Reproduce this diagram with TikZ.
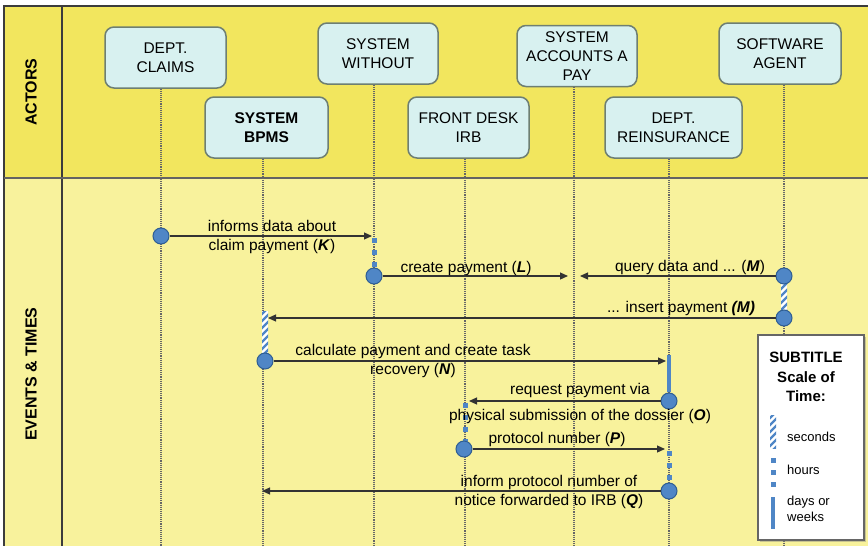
\documentclass[tikz,border=0pt]{standalone}
\usepackage{fontspec}
\setmainfont{Liberation Sans}
\usetikzlibrary{arrows.meta,shadows}

\definecolor{actband}{HTML}{F2E65E}
\definecolor{evband}{HTML}{F8F29C}
\definecolor{boxfill}{HTML}{D8F1F0}
\definecolor{boxline}{HTML}{6E7F72}
\definecolor{evblue}{HTML}{4F86C6}
\definecolor{evedge}{HTML}{2F5E93}
\definecolor{framegray}{HTML}{3C3C3C}
\definecolor{msggray}{HTML}{333333}

\tikzset{
  actor/.style={draw=boxline, line width=1.5pt, fill=boxfill, rounded corners=9pt,
    minimum width=121pt, minimum height=61pt, align=center, inner sep=2pt,
    font=\fontsize{15.5}{19}\selectfont},
  lifeline/.style={draw=black!60, densely dotted, line width=1.1pt},
  msg/.style={draw=msggray, line width=1.2pt, -{Triangle[length=8pt,width=7pt]}},
  event/.style={circle, draw=evedge, fill=evblue, line width=1pt,
    minimum size=16pt, inner sep=0pt},
  lbl/.style={font=\fontsize{15.5}{19}\selectfont, align=center, inner sep=0pt},
  legtxt/.style={font=\fontsize{13}{16}\selectfont, align=left, inner sep=0pt, anchor=west},
  hoursbar/.style={draw=evblue, line width=5pt, dash pattern=on 5pt off 7pt},
  daysbar/.style={draw=evblue, line width=4.5pt},
  bandlabel/.style={rotate=90, font=\fontsize{16}{19}\selectfont\bfseries},
}

% diagonal blue/white stripes on a lifeline: x, top y, bottom y
\newcommand\hatchbar[3]{%
  \begin{scope}
    \clip (#1-3,#2) rectangle (#1+3,#3);
    \fill[white] (#1-3,#2) rectangle (#1+3,#3);
    \pgfmathtruncatemacro\hbN{(#3-#2)/7+2}
    \foreach \k in {0,...,\hbN}
      \draw[evblue, line width=2.2pt] (#1-4,#2+\k*7+4) -- (#1+4,#2+\k*7-4);
  \end{scope}}

\newcommand\bi[1]{\textbf{\textit{#1}}}

\begin{document}
\begin{tikzpicture}[x=1pt,y=-1pt]
  \useasboundingbox (0,0) rectangle (868,546);
  \fill[white] (0,0) rectangle (868,546);

  % bands and frame
  \fill[actband] (4,6) rectangle (868,178);
  \fill[evband] (4,178) rectangle (868,546);
  \draw[framegray, line width=1.5pt] (868,6) -- (4,6) -- (4,546);
  \draw[framegray, line width=1.3pt] (62,6) -- (62,546);
  \draw[framegray!80, line width=1.3pt] (4,178) -- (868,178);

  \node[bandlabel] (actorsLbl) at (31,92) {ACTORS};
  \node[bandlabel] (eventsLbl) at (31,374) {EVENTS \& TIMES};

  % actors
  \node[actor] (claims)   at (165.5,57.5) {DEPT.\\CLAIMS};
  \node[actor, minimum width=123pt, font=\fontsize{15.5}{19}\selectfont\bfseries]
                          (bpms)     at (266.5,127.5) {SYSTEM\\BPMS};
  \node[actor, minimum width=120pt] (without)  at (378,53.5) {SYSTEM\\WITHOUT};
  \node[actor] (front)    at (468.5,127.5) {FRONT DESK\\IRB};
  \node[actor, minimum width=120pt] (accounts) at (577,56) {SYSTEM\\ACCOUNTS A\\PAY};
  \node[actor, minimum width=137pt] (reins)    at (673.5,127.5) {DEPT.\\REINSURANCE};
  \node[actor, minimum width=122pt] (agent)    at (780,53.5) {SOFTWARE\\AGENT};

  % lifelines
  \coordinate (claimsEnd)   at (161,546);
  \coordinate (bpmsEnd)     at (263,546);
  \coordinate (withoutEnd)  at (374,546);
  \coordinate (frontEnd)    at (465,546);
  \coordinate (accountsEnd) at (574,546);
  \coordinate (reinsEnd)    at (669,546);
  \coordinate (agentEnd)    at (784,546);
  \draw[lifeline] (claims.south -| claimsEnd)     -- (claimsEnd);
  \draw[lifeline] (bpms.south -| bpmsEnd)         -- (bpmsEnd);
  \draw[lifeline] (without.south -| withoutEnd)   -- (withoutEnd);
  \draw[lifeline] (front.south -| frontEnd)       -- (frontEnd);
  \draw[lifeline] (accounts.south -| accountsEnd) -- (accountsEnd);
  \draw[lifeline] (reins.south -| reinsEnd)       -- (reinsEnd);
  \draw[lifeline] (agent.south -| agentEnd)       -- (agentEnd);

  % duration bars
  \draw[hoursbar] (374,238) -- (374,270);
  \hatchbar{784}{279}{316}
  \hatchbar{265}{311}{357}
  \draw[daysbar] (669,355) -- (669,392);
  \draw[hoursbar] (465,403) -- (465,441);
  \draw[hoursbar] (669,451) -- (669,483);

  % messages
  \coordinate (kEnd) at (372,236);
  \coordinate (lEnd) at (568,276);
  \coordinate (m1End) at (580,276);
  \coordinate (m2End) at (268,318);
  \coordinate (nEnd) at (666,361);
  \coordinate (oEnd) at (469,401);
  \coordinate (pEnd) at (665,449);
  \coordinate (qEnd) at (262,491);

  \node[event] (evK)  at (161,236) {};
  \node[event] (evL)  at (374,276) {};
  \node[event] (evM1) at (784,276) {};
  \node[event] (evM2) at (784,318) {};
  \node[event] (evN)  at (265,361) {};
  \node[event] (evO)  at (669,401) {};
  \node[event] (evP)  at (464,449) {};
  \node[event] (evQ)  at (669,491) {};

  \draw[msg] (evK)  -- (kEnd);
  \draw[msg] (evL)  -- (lEnd);
  \draw[msg] (evM1) -- (m1End);
  \draw[msg] (evM2) -- (m2End);
  \draw[msg] (evN)  -- (nEnd);
  \draw[msg] (evO)  -- (oEnd);
  \draw[msg] (evP)  -- (pEnd);
  \draw[msg] (evQ)  -- (qEnd);

  % message labels
  \node[lbl] (lblK)  at (272,236.5) {informs data about\\claim payment (\bi{K})};
  \node[lbl] (lblL)  at (466,268) {create payment (\bi{L})};
  \node[lbl] (lblM1) at (690,267) {query data and ... (\bi{M})};
  \node[lbl] (lblM2) at (681,308) {... insert payment \bi{(M)}};
  \node[lbl] (lblN)  at (413,360.5) {calculate payment and create task\\recovery (\bi{N})};
  \node[lbl] (lblO)  at (580,403) {request payment via\\[7pt]physical submission of the dossier (\bi{O})};
  \node[lbl] (lblP)  at (557,439) {protocol number (\bi{P})};
  \node[lbl] (lblQ)  at (549,491.5) {inform protocol number of\\notice forwarded to IRB (\bi{Q})};

  % time scale legend
  \node[draw=black!60, line width=1.2pt, fill=white,
        drop shadow={shadow xshift=1.5pt, shadow yshift=-1.5pt, opacity=0.4},
        minimum width=106pt, minimum height=205pt, inner sep=0pt]
        (legend) at (811,437.5) {};
  \node[font=\fontsize{15}{19.5}\selectfont\bfseries, align=center, inner sep=0pt]
        (legTitle) at (806,377) {SUBTITLE\\Scale of\\Time:};
  \hatchbar{773}{415}{448}
  \draw[hoursbar] (773,458) -- (773,490);
  \draw[daysbar] (773,497) -- (773,529);
  \node[legtxt] (legSec)  at (787,437) {seconds};
  \node[legtxt] (legHour) at (787,470) {hours};
  \node[legtxt] (legDay)  at (787,509) {days or\\weeks};
\end{tikzpicture}
\end{document}
